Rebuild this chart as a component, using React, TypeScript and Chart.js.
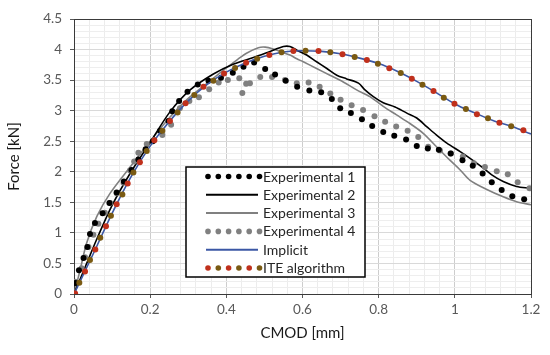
import React, { useEffect, useRef } from "react";
import { Chart, registerables } from "chart.js";

Chart.register(...registerables);

const FONT = "Lato, 'Open Sans', sans-serif";

// Experimental 1 (black dots)
const exp1X = [0.004, 0.013, 0.025, 0.035, 0.042, 0.055, 0.075, 0.093, 0.112, 0.131, 0.151, 0.169, 0.188, 0.207, 0.226, 0.248, 0.258, 0.276, 0.298, 0.325, 0.353, 0.386, 0.417, 0.445, 0.473, 0.502, 0.528, 0.556, 0.586, 0.618, 0.649, 0.677, 0.699, 0.727, 0.756, 0.783, 0.812, 0.841, 0.872, 0.9, 0.929, 0.958, 0.989, 1.02, 1.047, 1.073, 1.097, 1.123, 1.151, 1.182];
const exp1Y = [0.18, 0.39, 0.59, 0.77, 0.98, 1.16, 1.32, 1.49, 1.66, 1.84, 2.03, 2.2, 2.37, 2.5, 2.67, 2.83, 2.99, 3.16, 3.31, 3.43, 3.49, 3.54, 3.62, 3.72, 3.79, 3.68, 3.59, 3.49, 3.39, 3.33, 3.3, 3.19, 3.04, 2.96, 2.86, 2.75, 2.65, 2.59, 2.53, 2.42, 2.38, 2.36, 2.3, 2.19, 2.1, 1.97, 1.83, 1.7, 1.6, 1.55];

// Experimental 2 (black line)
const exp2X = [0, 0.03, 0.06, 0.1, 0.15, 0.2, 0.252, 0.305, 0.366, 0.418, 0.471, 0.515, 0.55, 0.567, 0.585, 0.611, 0.637, 0.664, 0.69, 0.716, 0.747, 0.764, 0.786, 0.812, 0.843, 0.874, 0.9, 0.926, 0.952, 0.979, 1.014, 1.04, 1.075, 1.097, 1.127, 1.162, 1.197];
const exp2Y = [0, 0.45, 0.9, 1.45, 2.0, 2.48, 2.98, 3.34, 3.6, 3.76, 3.87, 3.97, 4.05, 4.05, 3.99, 3.91, 3.8, 3.69, 3.58, 3.52, 3.45, 3.34, 3.23, 3.13, 3.06, 2.96, 2.88, 2.74, 2.6, 2.47, 2.33, 2.22, 2.06, 1.95, 1.84, 1.76, 1.73];

// Experimental 3 (grey line)
const exp3X = [0, 0.016, 0.033, 0.06, 0.095, 0.15, 0.2, 0.25, 0.3, 0.35, 0.4, 0.43, 0.453, 0.484, 0.502, 0.523, 0.545, 0.567, 0.585, 0.602, 0.637, 0.672, 0.707, 0.742, 0.777, 0.812, 0.847, 0.882, 0.917, 0.952, 0.987, 1.014, 1.04, 1.084, 1.127, 1.162, 1.2];
const exp3Y = [0, 0.39, 0.83, 1.27, 1.65, 2.1, 2.5, 2.88, 3.2, 3.45, 3.7, 3.84, 3.94, 4.03, 4.04, 4.01, 3.96, 3.91, 3.85, 3.8, 3.69, 3.58, 3.47, 3.34, 3.23, 3.07, 2.93, 2.79, 2.63, 2.41, 2.19, 2.03, 1.86, 1.71, 1.59, 1.51, 1.46];

// Experimental 4 (grey dots)
const exp4X = [0.004, 0.02, 0.029, 0.038, 0.051, 0.064, 0.081, 0.095, 0.112, 0.13, 0.147, 0.158, 0.169, 0.191, 0.21, 0.232, 0.255, 0.278, 0.303, 0.328, 0.355, 0.38, 0.404, 0.434, 0.442, 0.452, 0.462, 0.489, 0.52, 0.554, 0.585, 0.616, 0.645, 0.673, 0.7, 0.729, 0.759, 0.789, 0.817, 0.846, 0.876, 0.904, 0.93, 0.961, 0.99, 1.021, 1.05, 1.079, 1.11, 1.139, 1.165, 1.196];
const exp4Y = [0.2, 0.42, 0.6, 0.77, 0.97, 1.15, 1.33, 1.49, 1.65, 1.82, 2.02, 2.17, 2.31, 2.455, 2.52, 2.6, 2.77, 3.04, 3.16, 3.22, 3.35, 3.46, 3.5, 3.53, 3.29, 3.44, 3.45, 3.55, 3.55, 3.5, 3.45, 3.46, 3.39, 3.28, 3.18, 3.09, 3.01, 2.91, 2.82, 2.74, 2.67, 2.57, 2.41, 2.35, 2.3, 2.25, 2.14, 2.08, 2.01, 1.96, 1.83, 1.73];

// Implicit (blue line)
const implicitX = [0, 0.05, 0.1, 0.15, 0.2, 0.25, 0.3, 0.35, 0.4, 0.45, 0.5, 0.55, 0.6, 0.65, 0.7, 0.75, 0.8, 0.85, 0.9, 0.95, 1.0, 1.05, 1.1, 1.15, 1.2];
const implicitY = [0, 0.65, 1.32, 1.92, 2.42, 2.82, 3.16, 3.43, 3.63, 3.78, 3.89, 3.96, 3.98, 3.97, 3.93, 3.86, 3.77, 3.64, 3.48, 3.3, 3.11, 2.97, 2.84, 2.74, 2.62];

// ITE algorithm (red/brown dots)
const iteX = [0.003, 0.014, 0.029, 0.042, 0.056, 0.069, 0.084, 0.097, 0.112, 0.127, 0.141, 0.156, 0.173, 0.191, 0.211, 0.232, 0.252, 0.272, 0.293, 0.316, 0.34, 0.366, 0.394, 0.423, 0.452, 0.481, 0.513, 0.545, 0.576, 0.608, 0.642, 0.673, 0.705, 0.737, 0.769, 0.798, 0.828, 0.858, 0.887, 0.915, 0.944, 0.971, 0.999, 1.029, 1.058, 1.087, 1.117, 1.148, 1.18];
const iteY = [0.01, 0.185, 0.37, 0.556, 0.73, 0.92, 1.11, 1.28, 1.47, 1.63, 1.81, 1.99, 2.155, 2.34, 2.515, 2.673, 2.83, 2.97, 3.12, 3.257, 3.393, 3.49, 3.61, 3.7, 3.786, 3.85, 3.91, 3.956, 3.977, 3.982, 3.977, 3.956, 3.923, 3.879, 3.83, 3.769, 3.694, 3.617, 3.524, 3.426, 3.322, 3.213, 3.115, 3.028, 2.941, 2.876, 2.804, 2.745, 2.68];

const xTicks = ["0", "0.2", "0.4", "0.6", "0.8", "1", "1.2"];
const yTicks = ["0", "0.5", "1", "1.5", "2", "2.5", "3", "3.5", "4", "4.5"];

const legendLabels = ["Experimental 1", "Experimental 2", "Experimental 3", "Experimental 4", "Implicit", "ITE algorithm"];

const RED = "#c0301c";
const BROWN = "#7a5a12";
const BLUE = "#3b57a5";
const GREY = "#808080";

const pts = (xs: number[], ys: number[]) => xs.map((x, i) => ({ x, y: ys[i] }));

const isMajor = (v: number, step: number) => {
  const r = v / step;
  return Math.abs(r - Math.round(r)) < 1e-6;
};

const frameAndLegend = {
  id: "frameAndLegend",
  beforeDatasetsDraw(chart: any) {
    const { ctx, chartArea: a } = chart;
    ctx.save();
    ctx.strokeStyle = "#3a3a3a";
    ctx.lineWidth = 1;
    ctx.strokeRect(a.left + 0.5, a.top + 0.5, a.right - a.left, a.bottom - a.top);
    ctx.restore();
  },
  afterDraw(chart: any) {
    const { ctx, chartArea: a } = chart;
    const bx = a.left + 112;
    const by = a.top + 148;
    const bw = 179;
    const bh = 110;
    ctx.save();
    ctx.fillStyle = "#ffffff";
    ctx.fillRect(bx, by, bw, bh);
    ctx.strokeStyle = "#000000";
    ctx.lineWidth = 1.5;
    ctx.strokeRect(bx, by, bw, bh);
    const sx0 = bx + 22;
    const sx1 = bx + 74;
    const rowH = 18.3;
    ctx.font = `14px ${FONT}`;
    ctx.textBaseline = "middle";
    ctx.textAlign = "left";
    legendLabels.forEach((lab, i) => {
      const y = by + 9.5 + i * rowH;
      if (i === 0 || i === 3 || i === 5) {
        for (let k = 0; k < 6; k++) {
          const x = sx0 + k * 10.3;
          ctx.beginPath();
          ctx.arc(x, y, 2.8, 0, Math.PI * 2);
          ctx.fillStyle = i === 0 ? "#000000" : i === 3 ? GREY : k % 2 ? BROWN : RED;
          ctx.fill();
        }
      } else {
        ctx.beginPath();
        ctx.moveTo(sx0 - 2, y);
        ctx.lineTo(sx1 - 2, y);
        ctx.strokeStyle = i === 1 ? "#000000" : i === 2 ? GREY : BLUE;
        ctx.lineWidth = 2;
        ctx.stroke();
      }
      ctx.fillStyle = "#262626";
      ctx.fillText(lab, sx1 + 3, y + 0.5);
    });
    ctx.restore();
  },
};

export default function App() {
  const ref = useRef<HTMLCanvasElement | null>(null);
  useEffect(() => {
    if (!ref.current) return;
    const chart = new Chart(ref.current, {
      type: "scatter",
      data: {
        datasets: [
          {
            label: "ITE algorithm",
            data: pts(iteX, iteY),
            showLine: false,
            pointRadius: 3,
            pointBorderWidth: 0,
            pointBackgroundColor: (c: any) => (c.dataIndex % 2 ? BROWN : RED),
            order: 1,
          },
          {
            label: "Implicit",
            data: pts(implicitX, implicitY),
            showLine: true,
            borderColor: BLUE,
            borderWidth: 1.6,
            pointRadius: 0,
            tension: 0.4,
            cubicInterpolationMode: "monotone",
            order: 2,
          },
          {
            label: "Experimental 1",
            data: pts(exp1X, exp1Y),
            showLine: false,
            pointRadius: 3,
            pointBorderWidth: 0,
            pointBackgroundColor: "#000000",
            order: 3,
          },
          {
            label: "Experimental 4",
            data: pts(exp4X, exp4Y),
            showLine: false,
            pointRadius: 3,
            pointBorderWidth: 0,
            pointBackgroundColor: GREY,
            order: 4,
          },
          {
            label: "Experimental 2",
            data: pts(exp2X, exp2Y),
            showLine: true,
            borderColor: "#000000",
            borderWidth: 1.6,
            pointRadius: 0,
            tension: 0.3,
            order: 5,
          },
          {
            label: "Experimental 3",
            data: pts(exp3X, exp3Y),
            showLine: true,
            borderColor: GREY,
            borderWidth: 1.6,
            pointRadius: 0,
            tension: 0.3,
            order: 6,
          },
        ],
      },
      options: {
        animation: false,
        responsive: false,
        maintainAspectRatio: false,
        layout: { padding: { left: 0, right: 19, top: 19, bottom: 0 } },
        plugins: { legend: { display: false }, tooltip: { enabled: false } },
        scales: {
          x: {
            type: "linear",
            min: 0,
            max: 1.2,
            afterFit: (s: any) => {
              s.height = 61;
            },
            ticks: {
              stepSize: 0.04,
              autoSkip: false,
              maxRotation: 0,
              padding: 4,
              color: "#595959",
              font: { family: FONT, size: 13.5 },
              callback: (v: any) => (isMajor(v, 0.2) ? xTicks[Math.round(v / 0.2)] : ""),
            },
            grid: {
              color: (c: any) => (isMajor(c.tick.value, 0.2) ? "#cdcdcd" : "#ececec"),
              lineWidth: 1,
              tickLength: 4,
              tickColor: (c: any) => (isMajor(c.tick.value, 0.2) ? "#595959" : "rgba(0,0,0,0)"),
            },
            border: { display: true, color: "#3a3a3a" },
            title: {
              display: true,
              text: "CMOD [mm]",
              color: "#1a1a1a",
              font: { family: FONT, size: 15 },
              padding: { top: 0, bottom: 13 },
            },
          },
          y: {
            type: "linear",
            min: 0,
            max: 4.5,
            afterFit: (s: any) => {
              s.width = 74;
            },
            ticks: {
              stepSize: 0.1,
              autoSkip: false,
              padding: 8,
              color: "#595959",
              font: { family: FONT, size: 13.5 },
              callback: (v: any) => (isMajor(v, 0.5) ? yTicks[Math.round(v / 0.5)] : ""),
            },
            grid: {
              color: (c: any) => (isMajor(c.tick.value, 0.5) ? "#d9d9d9" : "#eeeeee"),
              lineWidth: 1,
              tickLength: 4,
              tickColor: (c: any) => (isMajor(c.tick.value, 0.5) ? "#595959" : "rgba(0,0,0,0)"),
            },
            border: { display: true, color: "#3a3a3a" },
            title: {
              display: true,
              text: "Force [kN]",
              color: "#1a1a1a",
              font: { family: FONT, size: 15 },
              padding: { top: 5, bottom: 0 },
            },
          },
        },
      },
      plugins: [frameAndLegend],
    } as any);
    return () => chart.destroy();
  }, []);
  return (
    <div style={{ position: "absolute", left: 0, top: 0, width: 550, height: 355, background: "#fff" }}>
      <canvas ref={ref} width={550} height={355} style={{ width: 550, height: 355, display: "block" }} />
    </div>
  );
}
